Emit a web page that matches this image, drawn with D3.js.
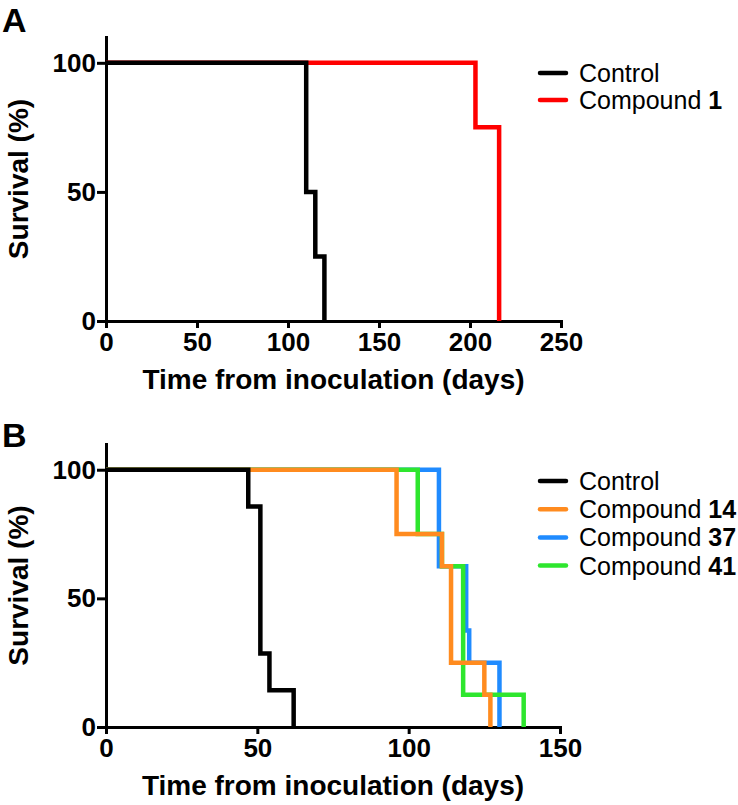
<!DOCTYPE html>
<html>
<head>
<meta charset="utf-8">
<script src="https://cdn.jsdelivr.net/npm/d3@7"></script>
<style>
  html, body { margin: 0; padding: 0; background: #fff; }
  svg { display: block; font-family: "Liberation Sans", Arial, Helvetica, sans-serif; }
</style>
</head>
<body>
<svg id="chart" width="738" height="805"></svg>
<script>
// ---------- DATA ----------
const yTicks = [0, 50, 100];
const xTicksA = [0, 50, 100, 150, 200, 250];
const xTicksB = [0, 50, 100, 150];

// Panel A
const aControlDays = [0, 110, 115, 120];
const aControlSurv = [100, 50, 25, 0];
const aComp1Days = [0, 203, 216];
const aComp1Surv = [100, 75, 0];

// Panel B
const bControlDays = [0, 47, 51, 54, 62];
const bControlSurv = [100, 85.7, 28.6, 14.3, 0];
const bComp14Days = [0, 96, 111, 114, 125, 127];
const bComp14Surv = [100, 75, 62.5, 25, 12.5, 0];
const bComp37Days = [0, 110, 119, 120, 130];
const bComp37Surv = [100, 62.5, 37.5, 25, 0];
const bComp41Days = [0, 103, 111, 118, 138];
const bComp41Surv = [100, 75, 62.5, 12.5, 0];

const legendA = [
  { name: "Control", num: "" },
  { name: "Compound ", num: "1" }
];
const legendB = [
  { name: "Control", num: "" },
  { name: "Compound ", num: "14" },
  { name: "Compound ", num: "37" },
  { name: "Compound ", num: "41" }
];

// ---------- STYLE ----------
const colors = {
  black: "#000000",
  red: "#ff0000",
  orange: "#ff8b1f",
  blue: "#1f8bff",
  green: "#2ee62e"
};

const svg = d3.select("#chart");

function zip(days, surv) { return days.map((d, i) => ({ t: d, s: surv[i] })); }

function drawPanel(cfg) {
  const x = d3.scaleLinear().domain([0, cfg.xMax]).range([cfg.x0, cfg.x1]);
  const y = d3.scaleLinear().domain([0, 110]).range([cfg.y0, cfg.yTop]);
  const g = svg.append("g");

  // y axis
  const yAxis = d3.axisLeft(y).tickValues(yTicks).tickSize(9).tickPadding(1).tickSizeOuter(0);
  const ya = g.append("g").attr("transform", `translate(${cfg.x0},0)`).call(yAxis);
  // x axis
  const xAxis = d3.axisBottom(x).tickValues(cfg.xTicks).tickSize(7).tickPadding(5).tickSizeOuter(0);
  const xa = g.append("g").attr("transform", `translate(0,${cfg.y0})`).call(xAxis);

  [ya, xa].forEach(a => {
    a.select(".domain").attr("stroke", "#000").attr("stroke-width", 3);
    a.selectAll(".tick line").attr("stroke", "#000").attr("stroke-width", 3);
    a.selectAll(".tick text").attr("fill", "#000").attr("font-size", 26).attr("font-weight", "bold")
      .attr("font-family", '"Liberation Sans", Arial, sans-serif');
  });
  ya.select(".domain").attr("stroke-linecap", "square");
  xa.select(".domain").attr("stroke-linecap", "square");

  // lines
  const line = d3.line().x(d => x(d.t)).y(d => y(d.s)).curve(d3.curveStepAfter);
  cfg.series.forEach(sr => {
    g.append("path")
      .attr("d", line(zip(sr.days, sr.surv)))
      .attr("fill", "none")
      .attr("stroke", sr.color)
      .attr("stroke-width", 4.5)
      .attr("stroke-linejoin", "miter")
      .attr("stroke-linecap", "butt");
  });

  // axis titles
  g.append("text")
    .attr("x", (cfg.x0 + cfg.x1) / 2)
    .attr("y", cfg.y0 + 68)
    .attr("text-anchor", "middle")
    .attr("font-size", 28).attr("font-weight", "bold")
    .text("Time from inoculation (days)");
  g.append("text")
    .attr("transform", `translate(28,${(cfg.y0 + cfg.yTop) / 2}) rotate(-90)`)
    .attr("text-anchor", "middle")
    .attr("font-size", 28).attr("font-weight", "bold")
    .text("Survival (%)");

  // panel letter
  g.append("text")
    .attr("x", 2).attr("y", cfg.letterY)
    .attr("font-size", 34).attr("font-weight", "bold")
    .text(cfg.letter);

  // legend
  const lg = g.append("g");
  cfg.legend.forEach((it, i) => {
    const ly = cfg.legY0 + i * cfg.legStep;
    lg.append("line")
      .attr("x1", 540).attr("x2", 566).attr("y1", ly).attr("y2", ly)
      .attr("stroke", cfg.legColors[i]).attr("stroke-width", 4.5).attr("stroke-linecap", "round");
    const t = lg.append("text").attr("x", 579).attr("y", ly + 9).attr("font-size", 25);
    t.append("tspan").text(it.name);
    if (it.num) t.append("tspan").attr("font-weight", "bold").text(it.num);
  });
}

drawPanel({
  letter: "A", letterY: 32,
  x0: 106, x1: 561, xMax: 250, xTicks: xTicksA,
  y0: 321, yTop: 37,
  series: [
    { days: aComp1Days, surv: aComp1Surv, color: colors.red },
    { days: aControlDays, surv: aControlSurv, color: colors.black }
  ],
  legend: legendA, legColors: [colors.black, colors.red],
  legY0: 73, legStep: 27
});

drawPanel({
  letter: "B", letterY: 447,
  x0: 106, x1: 560, xMax: 150, xTicks: xTicksB,
  y0: 727, yTop: 444,
  series: [
    { days: bComp37Days, surv: bComp37Surv, color: colors.blue },
    { days: bComp41Days, surv: bComp41Surv, color: colors.green },
    { days: bComp14Days, surv: bComp14Surv, color: colors.orange },
    { days: bControlDays, surv: bControlSurv, color: colors.black }
  ],
  legend: legendB, legColors: [colors.black, colors.orange, colors.blue, colors.green],
  legY0: 481, legStep: 28.2
});
</script>
</body>
</html>
